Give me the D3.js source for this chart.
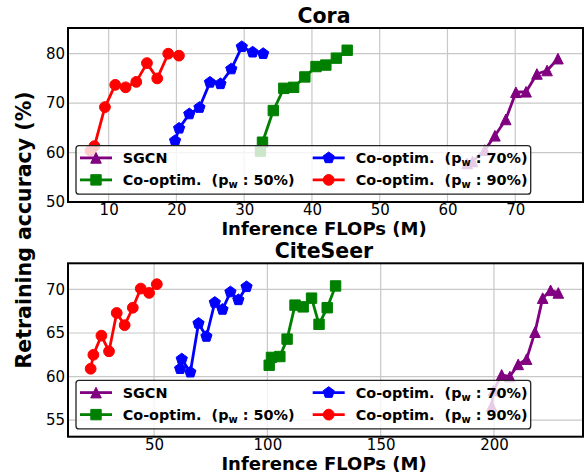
<!DOCTYPE html>
<html><head><meta charset="utf-8">
<script src="https://cdn.jsdelivr.net/npm/d3@7"></script>
<style>
body{margin:0;background:#fff}
svg{display:block}
text{font-family:"DejaVu Sans",sans-serif}
</style>
</head><body>
<svg id="chart" width="584" height="475"></svg>
<script>
// ---------- data ----------
const seriesLabels = ["SGCN", "50%", "70%", "90%"];
const seriesColors = ["purple", "green", "blue", "red"];
const seriesMarkers = ["triangle", "square", "pentagon", "circle"];

// Cora
const coraSgcnX  = [62.9, 63.7, 65.5, 67.0, 68.6, 70.1, 71.6, 73.2, 74.7, 76.3];
const coraSgcnY  = [57.8, 58.2, 60.5, 63.4, 66.7, 72.2, 72.3, 75.9, 76.6, 79.0];
const coraP50X   = [32.4, 32.7, 34.3, 35.85, 37.3, 38.95, 40.6, 42.05, 43.6, 45.2];
const coraP50Y   = [60.3, 62.1, 68.5, 73.0, 73.2, 75.3, 77.4, 77.7, 79.1, 80.7];
const coraP70X   = [19.8, 20.4, 21.9, 23.4, 24.95, 26.5, 28.1, 29.65, 31.25, 32.8];
const coraP70Y   = [62.4, 64.9, 67.8, 69.1, 74.2, 73.9, 76.9, 81.4, 80.3, 80.0];
const coraP90X   = [7.3, 7.9, 9.45, 10.97, 12.5, 14.07, 15.65, 17.17, 18.79, 20.37];
const coraP90Y   = [60.4, 61.3, 69.2, 73.7, 73.2, 74.3, 78.1, 75.0, 80.0, 79.6];

// CiteSeer
const citeSgcnX  = [199.0, 199.8, 203.4, 207.0, 210.7, 214.4, 218.1, 221.5, 225.0, 228.4];
const citeSgcnY  = [56.6, 58.4, 60.2, 60.0, 61.4, 62.0, 65.1, 69.0, 69.9, 69.6];
const citeP50X   = [100.8, 101.8, 105.5, 108.7, 112.2, 115.8, 119.5, 122.8, 126.4, 130.1];
const citeP50Y   = [61.3, 62.2, 62.3, 64.3, 68.2, 68.0, 69.0, 66.0, 67.9, 70.4];
const citeP70X   = [61.5, 62.2, 66.0, 69.6, 73.1, 76.8, 80.2, 83.7, 87.2, 90.8];
const citeP70Y   = [60.9, 62.0, 60.5, 66.1, 64.6, 68.5, 67.7, 69.7, 68.8, 70.3];
const citeP90X   = [22.0, 23.2, 26.75, 30.1, 33.5, 37.0, 40.6, 44.1, 47.8, 51.2];
const citeP90Y   = [60.9, 62.5, 64.7, 62.9, 67.3, 65.9, 67.9, 70.1, 69.6, 70.6];

const coraXTicks = [10, 20, 30, 40, 50, 60, 70];
const coraYTicks = [50, 60, 70, 80];
const citeXTicks = [50, 100, 150, 200];
const citeYTicks = [55, 60, 65, 70];

const titles = ["Cora", "CiteSeer"];
const xLabel = "Inference FLOPs (M)";
const yLabel = "Retraining accuracy (%)";

// ---------- layout ----------
const svg = d3.select("#chart");
const left = 68, right = 583;

const panels = [
  { title: titles[0], top: 28, bottom: 202, xDom: [4, 80], yDom: [50, 85.2],
    xTicks: coraXTicks, yTicks: coraYTicks,
    xs: [coraSgcnX, coraP50X, coraP70X, coraP90X], ys: [coraSgcnY, coraP50Y, coraP70Y, coraP90Y] },
  { title: titles[1], top: 263.3, bottom: 436.7, xDom: [12, 239.3], yDom: [53.1, 73],
    xTicks: citeXTicks, yTicks: citeYTicks,
    xs: [citeSgcnX, citeP50X, citeP70X, citeP90X], ys: [citeSgcnY, citeP50Y, citeP70Y, citeP90Y] }
];

// ---------- marker symbols (matplotlib-like) ----------
const symbolTypes = {
  triangle: { draw(c, r) { c.moveTo(0, -r); c.lineTo(r, r); c.lineTo(-r, r); c.closePath(); } },
  square:   { draw(c, r) { c.rect(-r, -r, 2 * r, 2 * r); } },
  circle:   { draw(c, r) { c.moveTo(r, 0); c.arc(0, 0, r, 0, 2 * Math.PI); } },
  pentagon: { draw(c, r) {
      for (let k = 0; k < 5; k++) {
        const a = -Math.PI / 2 + k * 2 * Math.PI / 5;
        const px = r * Math.cos(a), py = r * Math.sin(a);
        if (k === 0) c.moveTo(px, py); else c.lineTo(px, py);
      }
      c.closePath();
  } }
};
const markerSize = { triangle: 5.3, square: 5.2, circle: 5.4, pentagon: 5.9 };
function sym(name) { return d3.symbol().type(symbolTypes[name]).size(markerSize[name])(); }

panels.forEach(p => {
  const x = d3.scaleLinear().domain(p.xDom).range([left, right]);
  const y = d3.scaleLinear().domain(p.yDom).range([p.bottom, p.top]);
  const g = svg.append("g");

  // grid
  g.append("g").selectAll("line.vx").data(p.xTicks).join("line")
    .attr("x1", d => x(d)).attr("x2", d => x(d)).attr("y1", p.top).attr("y2", p.bottom)
    .attr("stroke", "#c8c8c8").attr("stroke-width", 1.2);
  g.append("g").selectAll("line.hy").data(p.yTicks).join("line")
    .attr("y1", d => y(d)).attr("y2", d => y(d)).attr("x1", left).attr("x2", right)
    .attr("stroke", "#c8c8c8").attr("stroke-width", 1.2);

  // axes
  const xa = g.append("g").attr("transform", `translate(0,${p.bottom})`)
    .call(d3.axisBottom(x).tickValues(p.xTicks).tickSize(0).tickPadding(2.5).tickFormat(d3.format("d")));
  const ya = g.append("g").attr("transform", `translate(${left},0)`)
    .call(d3.axisLeft(y).tickValues(p.yTicks).tickSize(0).tickPadding(3).tickFormat(d3.format("d")));
  [xa, ya].forEach(a => {
    a.select(".domain").remove();
    a.selectAll("text").attr("font-size", 15).attr("fill", "#000").attr("font-family", "DejaVu Sans");
  });

  // series
  const line = d3.line().x(d => x(d[0])).y(d => y(d[1]));
  p.xs.forEach((xsArr, i) => {
    const pts = xsArr.map((v, j) => [v, p.ys[i][j]]);
    g.append("path").datum(pts).attr("d", line).attr("fill", "none")
      .attr("stroke", seriesColors[i]).attr("stroke-width", 2.8).attr("stroke-linejoin", "round");
    g.append("g").selectAll("path").data(pts).join("path")
      .attr("d", sym(seriesMarkers[i]))
      .attr("transform", d => `translate(${x(d[0])},${y(d[1])})`)
      .attr("fill", seriesColors[i]).attr("stroke", seriesColors[i]).attr("stroke-width", 1);
  });

  // frame
  g.append("rect").attr("x", left).attr("y", p.top).attr("width", right - left).attr("height", p.bottom - p.top)
    .attr("fill", "none").attr("stroke", "#000").attr("stroke-width", 2);

  // title
  g.append("text").attr("x", 324).attr("y", p.top - 5.5).attr("text-anchor", "middle")
    .attr("font-size", 20.5).attr("font-weight", "bold").text(p.title);

  // x label
  g.append("text").attr("x", 324).attr("y", p.bottom + 33).attr("text-anchor", "middle")
    .attr("font-size", 18).attr("font-weight", "bold").text(xLabel);

  // legend
  const lt = p.bottom - 56.4;
  const lg = g.append("g");
  lg.append("rect").attr("x", 76).attr("y", lt).attr("width", 454.7).attr("height", 48.6)
    .attr("rx", 3).attr("fill", "#fff").attr("fill-opacity", 0.8)
    .attr("stroke", "#222").attr("stroke-width", 1.3);
  const slots = [[0, 0], [0, 1], [1, 0], [1, 1]];
  const colHandle = [80, 312.7], colText = [122.7, 355.7];
  seriesLabels.forEach((lab, i) => {
    const [c, r] = slots[i];
    const ly = lt + 12.3 + r * 22;
    lg.append("line").attr("x1", colHandle[c]).attr("x2", colHandle[c] + 32).attr("y1", ly).attr("y2", ly)
      .attr("stroke", seriesColors[i]).attr("stroke-width", 2.8);
    lg.append("path").attr("d", sym(seriesMarkers[i]))
      .attr("transform", `translate(${colHandle[c] + 16},${ly})`)
      .attr("fill", seriesColors[i]).attr("stroke", seriesColors[i]).attr("stroke-width", 1);
    const t = lg.append("text").attr("x", colText[c]).attr("y", ly + 5.2)
      .attr("font-size", 14.4).attr("font-weight", "bold").style("white-space", "pre");
    if (i === 0) {
      t.text(lab);
    } else {
      t.append("tspan").text("Co-optim.  (p");
      t.append("tspan").attr("font-size", 10).attr("dy", 3).text("w");
      t.append("tspan").attr("dy", -3).text(" : " + lab + ")");
    }
  });
});

// shared y label
svg.append("text").attr("transform", "translate(31,230) rotate(-90)").attr("text-anchor", "middle")
  .attr("font-size", 20.5).attr("font-weight", "bold").text(yLabel);
</script>
</body></html>
